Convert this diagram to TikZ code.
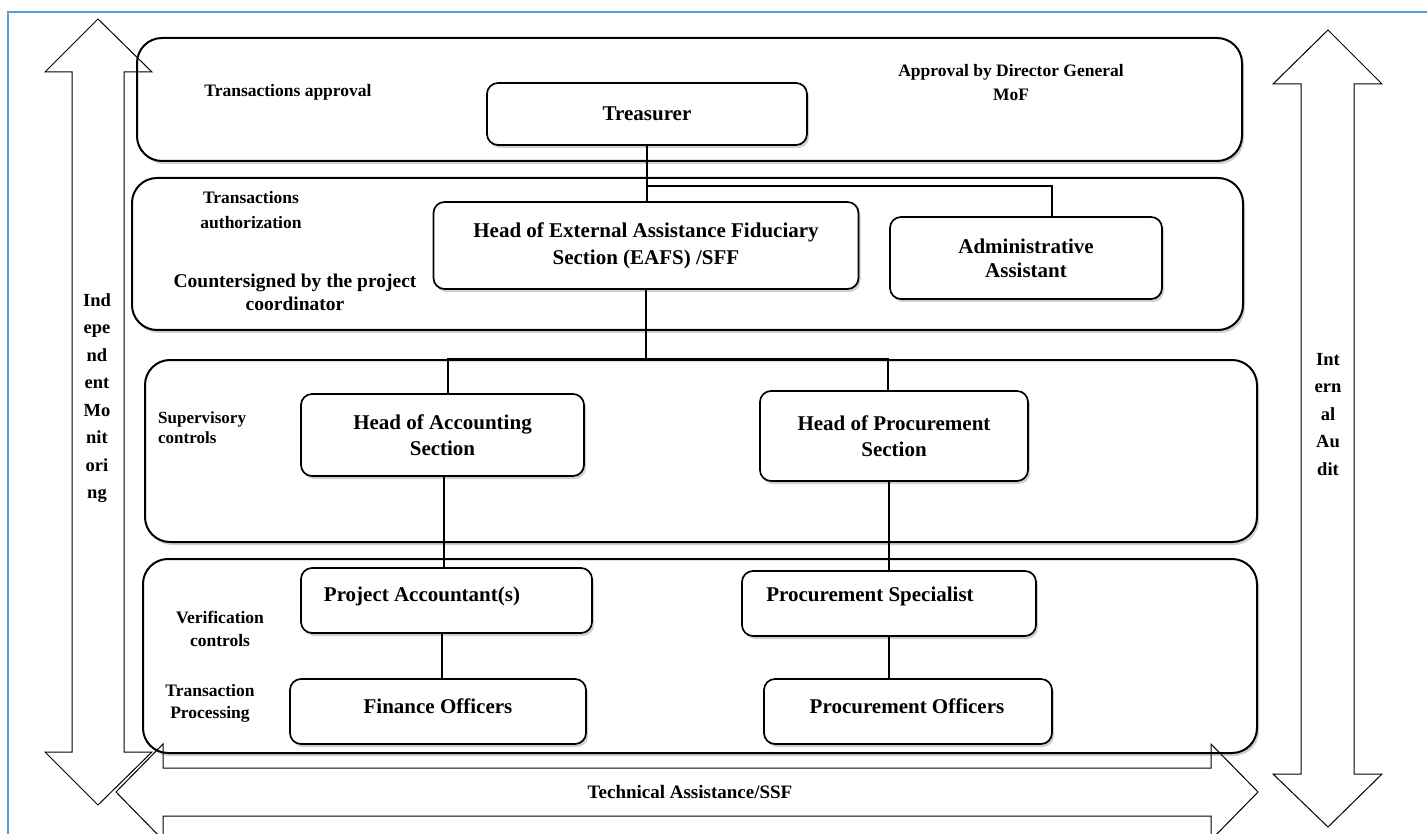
\documentclass[tikz,border=0pt]{standalone}
\usepackage{fontspec}
\setmainfont{Liberation Serif}
\usetikzlibrary{shadows,calc}
\definecolor{bord}{RGB}{91,155,213}
\begin{document}
\begin{tikzpicture}[x=1pt,y=-1pt,
  sect/.style={draw, line width=2pt, rounded corners=25pt, fill=white, inner sep=0pt,
    drop shadow={shadow xshift=2pt, shadow yshift=-3pt, fill=black!30, opacity=0.6}},
  ubox/.style={draw, line width=1.7pt, rounded corners=11pt, fill=white, inner sep=0pt, align=center,
    font=\bfseries\fontsize{21}{27}\selectfont,
    drop shadow={shadow xshift=2pt, shadow yshift=-3pt, fill=black!30, opacity=0.6}},
  boxtext/.style={font=\bfseries\fontsize{21}{27}\selectfont, inner sep=0pt},
  conn/.style={line width=1.7pt},
  bigarrow/.style={draw, line width=1pt, line join=miter},
  sidelbl/.style={font=\bfseries\fontsize{17.5}{24}\selectfont, align=center, inner sep=0pt},
  arrlbl/.style={font=\bfseries\fontsize{18.5}{27.5}\selectfont, align=center, inner sep=0pt}
]
\useasboundingbox (0,0) rectangle (1427,834);
\clip (0,0) rectangle (1427,834);
\fill[white] (0,0) rectangle (1427,834);
% page border
\draw[bord, line width=1.5pt] (8,900) -- (8,12) -- (1500,12);

% sections
\node[sect, minimum width=1105pt, minimum height=123pt] (s1) at (689.5,99.5) {};
\node[sect, minimum width=1111pt, minimum height=152pt] (s2) at (687.5,254) {};
\node[sect, minimum width=1112pt, minimum height=182pt] (s3) at (701,451) {};
\node[sect, minimum width=1114pt, minimum height=194pt] (s4) at (700,656) {};

% big arrows
\draw[bigarrow] (98,19) -- (152,72) -- (124,72) -- (124,752) -- (152,752) -- (98,805)
  -- (45,752) -- (72,752) -- (72,72) -- (45,72) -- cycle;
\draw[bigarrow] (1328,30) -- (1382,84) -- (1354,84) -- (1354,774) -- (1382,774) -- (1328,827)
  -- (1273,774) -- (1301,774) -- (1301,84) -- (1273,84) -- cycle;
\draw[bigarrow] (116,792) -- (163,744) -- (163,768) -- (1211,768) -- (1211,744) -- (1258,792)
  -- (1211,840) -- (1211,816) -- (163,816) -- (163,840) -- cycle;

\coordinate (j1) at (647,186);
\coordinate (j2) at (646,360);

% unit boxes
\node[ubox, minimum width=320pt, minimum height=62pt] (tr) at (647,114) {Treasurer};
\node[ubox, minimum width=425pt, minimum height=87pt] (eafs) at (646,245.5)
  {Head of External Assistance Fiduciary\\Section (EAFS) /SFF};
\node[ubox, minimum width=272pt, minimum height=82pt, font=\bfseries\fontsize{21}{24}\selectfont] (admin) at (1026,258)
  {Administrative\\Assistant};
\node[ubox, minimum width=283pt, minimum height=82pt, font=\bfseries\fontsize{21}{26}\selectfont] (hacc) at (442.5,435)
  {Head of Accounting\\Section};
\node[ubox, minimum width=268pt, minimum height=90pt, font=\bfseries\fontsize{21}{26}\selectfont] (hproc) at (894,436)
  {Head of Procurement\\Section};
\node[ubox, minimum width=291pt, minimum height=65pt] (pa) at (446.5,600.5) {};
\node[boxtext] (patxt) at (422,596) {Project Accountant(s)};
\node[ubox, minimum width=294pt, minimum height=65pt] (ps) at (889,603.5) {};
\node[boxtext] (pstxt) at (870,596) {Procurement Specialist};
\node[ubox, minimum width=296pt, minimum height=65pt] (fo) at (438,711.5) {};
\node[boxtext] (fotxt) at (438,706) {Finance Officers};
\node[ubox, minimum width=288pt, minimum height=65pt] (po) at (908,711.5) {};
\node[boxtext] (potxt) at (907,706) {Procurement Officers};

% connectors
\draw[conn] (tr.south) -- (tr.south |- eafs.north);
\draw[conn] (j1) -| ([xshift=26pt]admin.north);
\draw[conn] (eafs.south) -- (eafs.south |- j2);
\draw[conn] ([xshift=5.5pt]hacc.north) -- ++(0,-34) -| ([xshift=-6pt]hproc.north);
\draw[conn] ([xshift=1.5pt]hacc.south) -- ([xshift=1.5pt]hacc.south |- pa.north);
\draw[conn] (ps.north |- hproc.south) -- (ps.north);
\draw[conn] ([xshift=-4.5pt]pa.south) -- ([xshift=-4.5pt]pa.south |- fo.north);
\draw[conn] (ps.south) -- (ps.south |- po.north);

% side labels
\node[sidelbl] (l1) at (288,92) {Transactions approval};
\node[sidelbl] (l2) at (1011,83) {Approval by Director General\\MoF};
\node[sidelbl, font=\bfseries\fontsize{17.5}{25}\selectfont] (l3) at (251,210.5) {Transactions\\authorization};
\node[sidelbl, font=\bfseries\fontsize{19.5}{23}\selectfont] (l4) at (295,292.5) {Countersigned by the project\\coordinator};
\node[sidelbl, align=left, anchor=west, font=\bfseries\fontsize{17}{20}\selectfont] (l5) at (158,428) {Supervisory\\controls};
\node[sidelbl, font=\bfseries\fontsize{17.5}{23}\selectfont] (l6) at (220,628.5) {Verification\\controls};
\node[sidelbl, font=\bfseries\fontsize{17.5}{22}\selectfont] (l7) at (210,703) {Transaction\\Processing};

% arrow labels
\node[arrlbl] (a1) at (97,398) {Ind\\epe\\nd\\ent\\Mo\\nit\\ori\\ng};
\node[arrlbl] (a2) at (1328,414.5) {Int\\ern\\al\\Au\\dit};
\node[sidelbl, font=\bfseries\fontsize{19}{24}\selectfont] (a3) at (690,792) {Technical Assistance/SSF};
\end{tikzpicture}
\end{document}
